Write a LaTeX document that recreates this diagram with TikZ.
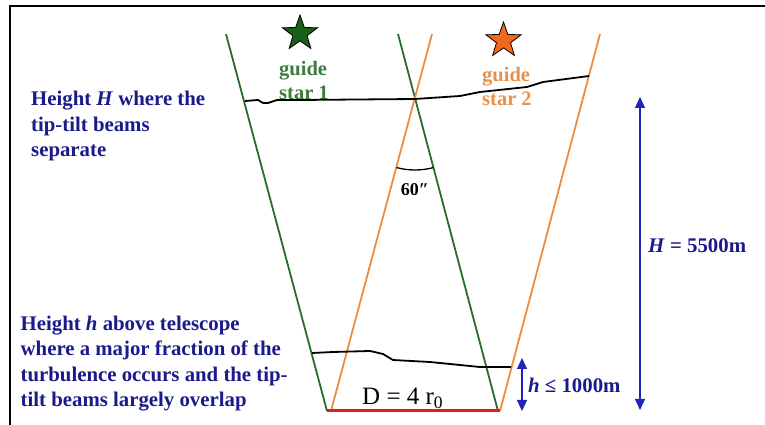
\documentclass[tikz,border=0pt]{standalone}
\usepackage{fontspec}
\setmainfont{Liberation Serif}
\usetikzlibrary{
    arrows.meta,
    shapes.geometric,
    angles,
    quotes
}

\definecolor{navy}{RGB}{26,26,138}
\definecolor{arrowblue}{RGB}{35,35,185}
\definecolor{beamgreen}{RGB}{40,110,40}
\definecolor{textgreen}{RGB}{60,125,60}
\definecolor{stargreen}{RGB}{25,95,25}
\definecolor{beamorange}{RGB}{235,140,65}
\definecolor{textorange}{RGB}{232,145,75}
\definecolor{starorange}{RGB}{240,105,30}
\definecolor{aperture}{RGB}{225,30,30}

\tikzset{
    beamone/.style={line width=1.8pt, draw=beamgreen},
    beamtwo/.style={line width=1.8pt, draw=beamorange},
    layer/.style={line width=1.8pt, line join=round},
    dimarrow/.style={draw=arrowblue, line width=1.2pt,
        -{Triangle[length=11pt,width=10pt]}},
    dimboth/.style={dimarrow,
        {Triangle[length=11pt,width=10pt]}-{Triangle[length=11pt,width=10pt]}},
    note/.style={font=\bfseries\fontsize{20.8}{25.5}\selectfont, text=navy,
        align=left, inner sep=0pt, anchor=base west},
    starmark/.style={star, star points=5, star point ratio=2.5,
        minimum size=37pt, inner sep=0pt, draw=black, line width=0.8pt},
    starlabel/.style={font=\bfseries\fontsize{20.5}{24.5}\selectfont,
        align=left, inner sep=0pt, anchor=base west}
}

\begin{document}
\begin{tikzpicture}[x=1pt,y=1pt]
\useasboundingbox (0,0) rectangle (765,425);

% Frame
\draw[line width=2.5pt] (765,419) -- (10,419) -- (10,0);

% Key coordinates
\coordinate (G1top) at (226,391);  % beams of guide star 1
\coordinate (G1bot) at (327,14);
\coordinate (G2top) at (398,391);
\coordinate (G2bot) at (498,14);
\coordinate (O1top) at (432,391);  % beams of guide star 2
\coordinate (O1bot) at (331,14);
\coordinate (O2top) at (600,391);
\coordinate (O2bot) at (500,14);
\coordinate (X) at (415,326);      % beams cross

% Guide stars (base anchor = last line)
\node[starmark, fill=stargreen] (star1) at (300,391.5) {};
\node[starmark, fill=starorange] (star2) at (503.5,384.5) {};
\node[starlabel, text=textgreen] (gs1) at (279,325) {guide\\star 1};
\node[starlabel, text=textorange] (gs2) at (482,319) {guide\\star 2};

% Beams
\draw[beamone] (G1top) -- (G1bot);
\draw[beamone] (G2top) -- (G2bot);
\draw[beamtwo] (O1top) -- (O1bot);
\draw[beamtwo] (O2top) -- (O2bot);

% Telescope aperture
\draw[line width=3pt, aperture] (G1bot) -- (O2bot);
\node[font=\fontsize{25}{25}\selectfont, anchor=base west, inner sep=0pt]
    (Dlab) at (362,20) {D = 4 r$_{\mathrm{0}}$};

% Turbulent layers
\draw[layer] (245,324) -- (258,325) -- (263,322) -- (268,322) -- (277,325)
    -- (300,325) -- (X) -- (460,329) -- (480,333) -- (527,338) -- (543,343)
    -- (589,349);
\draw[layer] (312,72) -- (333,73) -- (370,74) -- (383,71) -- (393,65)
    -- (430,63) -- (480,58) -- (511,58);

% Angle between the beams
\pic[draw, line width=1.3pt, "60″", angle radius=71pt, angle eccentricity=1.27,
    font=\bfseries\fontsize{18}{18}\selectfont]
    {angle = O1bot--X--G2bot};

% Heights
\coordinate (Htop) at (640,328);
\coordinate (Hbot) at (640,15);
\coordinate (htop) at (522,67);
\coordinate (hbot) at (522,14);
\draw[dimboth] (Hbot) -- (Htop);
\draw[dimboth] (htop) -- (hbot);
\node[note] (Hlab) at (648,172) {\textit{H} = 5500m};
\node[note] (hlab) at (528,32) {\textit{h} ≤ 1000m};

% Notes
\node[note] (noteH) at (31,268) {Height \textit{H} where the\\tip-tilt beams\\separate};
\node[note] (noteh) at (20.5,18.3)
    {Height \textit{h} above telescope\\where a major fraction of the\\turbulence occurs and the tip-\\tilt beams largely overlap};

\end{tikzpicture}
\end{document}
